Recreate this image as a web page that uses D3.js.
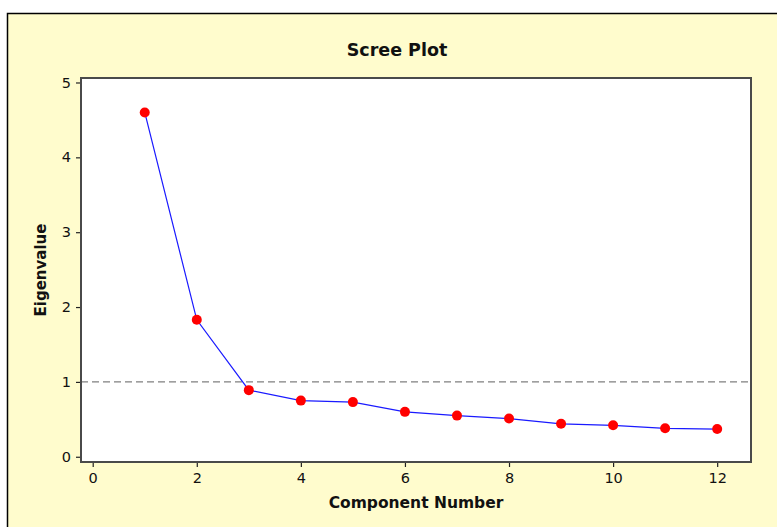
<!DOCTYPE html>
<html>
<head>
<meta charset="utf-8">
<script src="https://cdn.jsdelivr.net/npm/d3@7"></script>
<style>
  html, body { margin: 0; padding: 0; background: #ffffff; }
  svg { display: block; }
</style>
</head>
<body>
<script>
// Eigenvalues for each principal component
const components = [1, 2, 3, 4, 5, 6, 7, 8, 9, 10, 11, 12];
const eigenvalues = [4.60, 1.83, 0.89, 0.75, 0.73, 0.60, 0.55, 0.51, 0.44, 0.42, 0.38, 0.37];
const xTicks = [0, 2, 4, 6, 8, 10, 12];
const yTicks = [0, 1, 2, 3, 4, 5];
const referenceLevel = 1;

const W = 777, H = 527;
const plot = { left: 81, top: 78, right: 751, bottom: 462 };

const svg = d3.select("body").append("svg")
  .attr("width", W).attr("height", H);

// Light yellow frame behind the chart
svg.append("rect")
  .attr("x", 7.5).attr("y", 13.5)
  .attr("width", W + 10).attr("height", H + 10)
  .attr("fill", "#fffccd")
  .attr("stroke", "#000").attr("stroke-width", 1.5);

const x = d3.scaleLinear().domain([-0.225, 12.65]).range([plot.left, plot.right]);
const y = d3.scaleLinear().domain([-0.07, 5.06]).range([plot.bottom, plot.top]);

// Plot area
svg.append("rect")
  .attr("x", plot.left).attr("y", plot.top)
  .attr("width", plot.right - plot.left).attr("height", plot.bottom - plot.top)
  .attr("fill", "#ffffff");

const tickFont = "Tahoma, 'DejaVu Sans', sans-serif";

// Axes
const xAxis = svg.append("g")
  .attr("transform", `translate(0,${plot.bottom})`)
  .call(d3.axisBottom(x).tickValues(xTicks).tickSize(5).tickPadding(6).tickFormat(d3.format("d")));
const yAxis = svg.append("g")
  .attr("transform", `translate(${plot.left},0)`)
  .call(d3.axisLeft(y).tickValues(yTicks).tickSize(5).tickPadding(5).tickFormat(d3.format("d")));

[xAxis, yAxis].forEach(g => {
  g.select(".domain").remove();
  g.selectAll(".tick line").attr("stroke", "#222").attr("stroke-width", 1.2);
  g.selectAll(".tick text")
    .attr("fill", "#111")
    .attr("font-family", tickFont)
    .attr("font-size", 14.5);
});

// Reference line at eigenvalue 1
svg.append("line")
  .attr("x1", plot.left).attr("x2", plot.right)
  .attr("y1", y(referenceLevel)).attr("y2", y(referenceLevel))
  .attr("stroke", "#808080").attr("stroke-width", 1.4)
  .attr("stroke-dasharray", "7,4");

const data = components.map((c, i) => ({ c, v: eigenvalues[i] }));

// Connecting line
svg.append("path")
  .datum(data)
  .attr("fill", "none")
  .attr("stroke", "#1a1aff")
  .attr("stroke-width", 1.2)
  .attr("d", d3.line().x(d => x(d.c)).y(d => y(d.v)));

// Points
svg.append("g").selectAll("circle")
  .data(data).join("circle")
  .attr("cx", d => x(d.c)).attr("cy", d => y(d.v))
  .attr("r", 5)
  .attr("fill", "#ff0000");

// Plot area border
svg.append("rect")
  .attr("x", plot.left).attr("y", plot.top)
  .attr("width", plot.right - plot.left).attr("height", plot.bottom - plot.top)
  .attr("fill", "none")
  .attr("stroke", "#4a4a4a").attr("stroke-width", 2);

const labelFont = "Tahoma, 'DejaVu Sans', sans-serif";

// Title
svg.append("text")
  .attr("x", 397).attr("y", 56)
  .attr("text-anchor", "middle")
  .style("font-family", labelFont).style("font-weight", "bold").style("font-size", "17.5px")
  .attr("fill", "#111")
  .text("Scree Plot");

// Axis titles
svg.append("text")
  .attr("x", 416).attr("y", 508)
  .attr("text-anchor", "middle")
  .style("font-family", labelFont).style("font-weight", "bold").style("font-size", "15.5px")
  .attr("fill", "#111")
  .text("Component Number");

svg.append("text")
  .attr("transform", `translate(46,${(plot.top + plot.bottom) / 2}) rotate(-90)`)
  .attr("text-anchor", "middle")
  .style("font-family", labelFont).style("font-weight", "bold").style("font-size", "15px")
  .attr("fill", "#111")
  .text("Eigenvalue");
</script>
</body>
</html>
